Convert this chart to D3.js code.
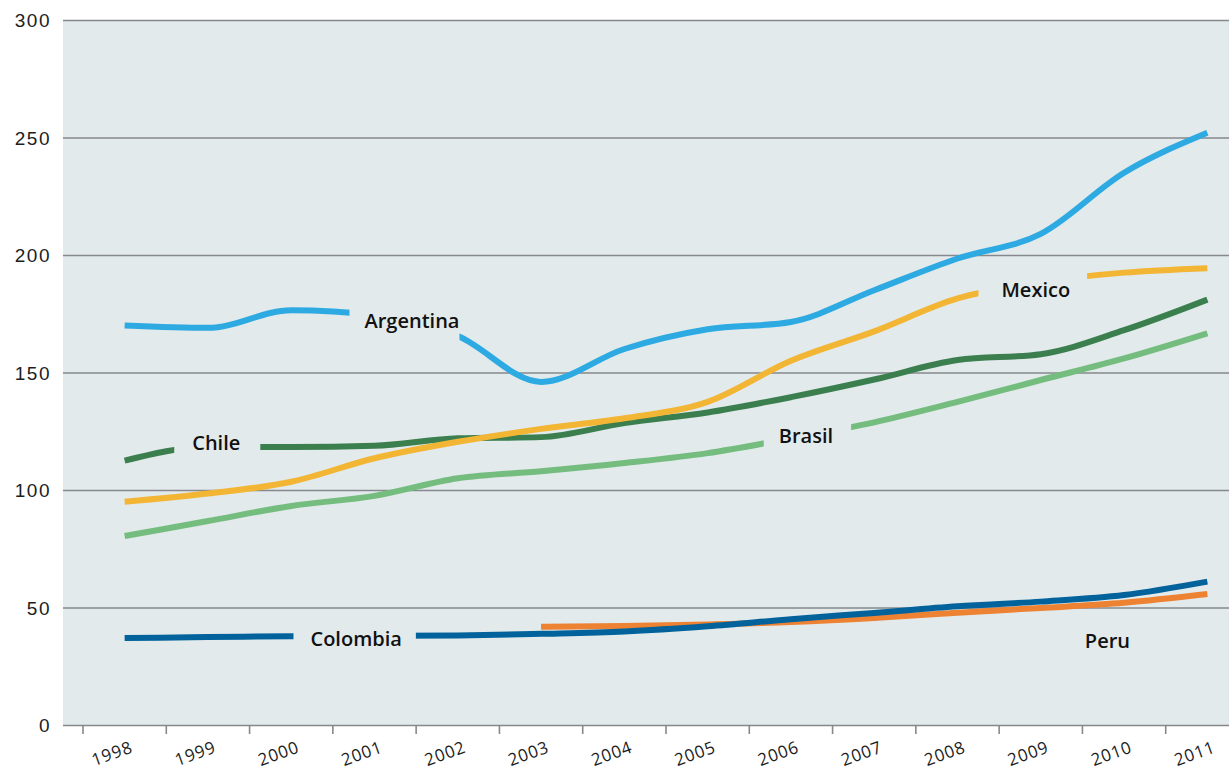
<!DOCTYPE html>
<html>
<head>
<meta charset="utf-8">
<script src="https://cdn.jsdelivr.net/npm/d3@7"></script>
<style>
    body { margin: 0; background: #ffffff; }
    svg { display: block; font-family: "Open Sans", sans-serif; }
</style>
</head>
<body>
<svg id="chart" width="1229" height="772"></svg>
<script>
    let years = [1998, 1999, 2000, 2001, 2002, 2003, 2004, 2005, 2006, 2007, 2008, 2009, 2010, 2011];
    let yTicks = [0, 50, 100, 150, 200, 250, 300];

    let argentina = [170, 169, 176.5, 174.5, 165.5, 146, 160, 168.4, 171.5, 185, 198.5, 209, 235, 252];
    let mexico = [95, 98.5, 103.5, 113.5, 120.5, 126, 130.5, 137.5, 155, 167.5, 181.5, 188.5, 192.5, 194.4];
    let chile = [112.5, 118.3, 118.3, 118.8, 122, 122.5, 128.5, 133, 139.5, 147, 155.3, 157.8, 168, 181];
    let brasil = [80.4, 86.8, 93.2, 97.5, 105, 108, 111.5, 115.7, 122, 128.8, 137.5, 146.8, 156, 166.7];
    let colombia = [37, 37.4, 37.8, 37.9, 38.1, 38.8, 39.8, 42, 45, 47.7, 50.5, 52.5, 55.3, 61];
    let peru = [null, null, null, null, null, 41.8, 42.1, 42.8, 43.8, 45.5, 47.8, 49.8, 52, 55.7];

    let series = [
        {name: "Argentina", values: argentina, color: "#2eaae2"},
        {name: "Brasil", values: brasil, color: "#74bd7e"},
        {name: "Chile", values: chile, color: "#3b7f4f"},
        {name: "Mexico", values: mexico, color: "#f2b534"},
        {name: "Peru", values: peru, color: "#ec8232"},
        {name: "Colombia", values: colombia, color: "#02629b"}
    ];

    /* where each name sits on its line; padL/padR is the gap cut in the line */
    let labels = [
        {name: "Argentina", year: 2001.45, value: 172, padL: 15, padR: 0},
        {name: "Chile", year: 1999.1, value: 120, padL: 18, padR: 20},
        {name: "Brasil", year: 2006.18, value: 123, padL: 15, padR: 18},
        {name: "Mexico", year: 2008.94, value: 185.3, padL: 23, padR: 17},
        {name: "Colombia", year: 2000.78, value: 36.8, padL: 17, padR: 14},
        {name: "Peru", year: 2009.8, value: 36, padL: 0, padR: 0}
    ];

    let bg = "#e2eaec",
        gridColor = "#86898b";

    let svg = d3.select("#chart");
    let plot = {left: 63, right: 1229, top: 20, bottom: 725};

    let x = d3.scaleBand().domain(years).range([83, 1249]);
    let xc = d => x(d) + x.bandwidth() / 2;
    let xYear = d3.scaleLinear().domain([1998, 2011]).range([xc(1998), xc(2011)]);
    let y = d3.scaleLinear().domain([0, 300]).range([plot.bottom, plot.top]);

    svg.append("rect")
        .attr("x", plot.left).attr("y", plot.top)
        .attr("width", plot.right - plot.left).attr("height", plot.bottom - plot.top)
        .attr("fill", bg);

    // gridlines + y labels
    let yAxis = svg.append("g").attr("transform", "translate(" + plot.left + ",0)")
        .call(d3.axisLeft(y).tickValues(yTicks).tickSize(-(plot.right - plot.left)).tickPadding(12));
    yAxis.select(".domain").remove();
    yAxis.selectAll(".tick line").attr("stroke", gridColor).attr("stroke-width", 1.6);
    yAxis.selectAll(".tick text")
        .attr("fill", "#1d1d1d")
        .style("font-size", "19px")
        .style("letter-spacing", "1.5px")
        .attr("dy", "0.36em");

    // x axis ticks sit at the band edges
    let xAxis = svg.append("g").attr("transform", "translate(0," + plot.bottom + ")");
    xAxis.selectAll("line").data(years).join("line")
        .attr("x1", d => x(d)).attr("x2", d => x(d))
        .attr("y1", 0).attr("y2", 9)
        .attr("stroke", gridColor).attr("stroke-width", 1.6);
    xAxis.selectAll("text").data(years).join("text")
        .attr("transform", d => "translate(" + (x(d) + 31) + ",34) rotate(-20)")
        .attr("text-anchor", "middle")
        .attr("fill", "#1d1d1d")
        .style("font-size", "17px")
        .style("letter-spacing", "0.8px")
        .text(d => d);

    let line = d3.line()
        .defined(d => d[1] != null)
        .x(d => xc(d[0]))
        .y(d => y(d[1]))
        .curve(d3.curveMonotoneX);

    svg.append("g").selectAll("path").data(series).join("path")
        .attr("d", s => line(years.map((yr, i) => [yr, s.values[i]])))
        .attr("fill", "none")
        .attr("stroke", s => s.color)
        .attr("stroke-width", 6);

    // names: a rect in the plot colour opens a gap in the line behind them
    let lab = svg.append("g").selectAll("g").data(labels).join("g")
        .attr("transform", d => "translate(" + xYear(d.year) + "," + y(d.value) + ")");
    lab.append("text")
        .attr("text-anchor", "middle")
        .attr("dy", "0.36em")
        .attr("fill", "#111111")
        .style("font-size", "20px")
        .style("font-weight", 600)
        .text(d => d.name);
    lab.each(function(d) {
        if (!d.padL && !d.padR) return;
        let g = d3.select(this);
        let box = g.select("text").node().getBBox();
        g.insert("rect", "text")
            .attr("x", box.x - d.padL)
            .attr("y", -22)
            .attr("width", box.width + d.padL + d.padR)
            .attr("height", 44)
            .attr("fill", bg);
    });
</script>
</body>
</html>
